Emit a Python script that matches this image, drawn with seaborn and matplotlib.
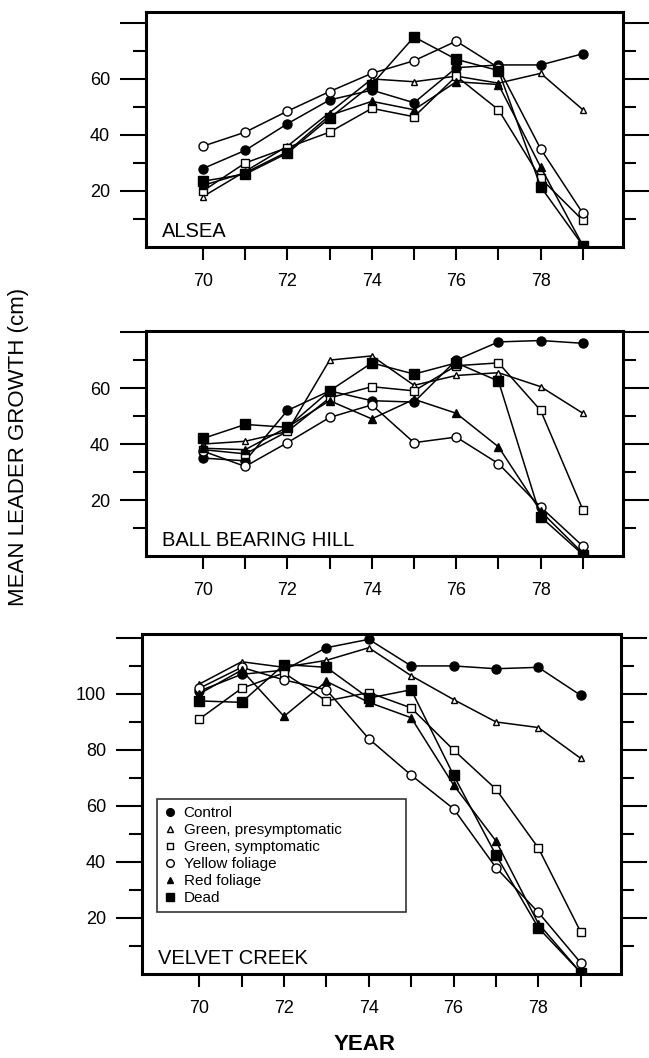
import pandas as pd
import matplotlib
matplotlib.use('Agg')
import matplotlib.pyplot as plt
from matplotlib.lines import Line2D
import seaborn as sns

## DATA (mean leader growth, cm)
years = [70, 71, 72, 73, 74, 75, 76, 77, 78, 79]
groups = ['Control', 'Green, presymptomatic', 'Green, symptomatic',
          'Yellow foliage', 'Red foliage', 'Dead']
sites = ['ALSEA', 'BALL BEARING HILL', 'VELVET CREEK']

alsea_control = [28, 34.5, 44, 52.5, 56, 51.5, 64, 65, 65, 69]
alsea_presym = [18, 27, 36, 48, 60, 59, 61, 58.5, 62, 49]
alsea_sympt = [20, 30, 35.5, 41, 49.5, 46.5, 61, 49, 24.5, 9.5]
alsea_yellow = [36, 41, 48.5, 55.5, 62, 66.5, 73.5, 64, 35, 12]
alsea_red = [22, 26.5, 34, 47, 52, 49, 59, 58, 28.5, 0.5]
alsea_dead = [23.5, 26, 33.5, 46, 58, 75, 67, 63, 21.5, 0.5]

bbh_control = [35, 34, 52, 59, 55.5, 55, 70, 76.5, 77, 76]
bbh_presym = [40, 41, 44.5, 70, 71.5, 61, 64.5, 65.5, 60.5, 51]
bbh_sympt = [38, 36.5, 44.5, 56.5, 60.5, 59, 68, 69, 52, 16.5]
bbh_yellow = [37.5, 32, 40.5, 49.5, 54, 40.5, 42.5, 33, 17.5, 3.5]
bbh_red = [38.5, 38, 46, 55.5, 49, 56, 51, 39, 16, 1]
bbh_dead = [42, 47, 46, 59, 69, 65, 69, 62.5, 14, 0.5]

vc_control = [101, 107, 108.5, 116.5, 119.5, 110, 110, 109, 109.5, 99.5]
vc_presym = [103.5, 111.5, 109.5, 112, 116.5, 106.5, 98, 90, 88, 77]
vc_sympt = [91, 102, 107.5, 97.5, 100.5, 95, 80, 66, 45, 15]
vc_yellow = [102, 109.5, 105, 101.5, 84, 71, 59, 38, 22, 4]
vc_red = [100, 108.5, 92, 104.5, 97, 91.5, 67.5, 47.5, 18, 0.5]
vc_dead = [97.5, 97, 110.5, 109.5, 98.5, 101.5, 71, 42.5, 16.5, 0.5]

site_series = {
    'ALSEA': [alsea_control, alsea_presym, alsea_sympt, alsea_yellow, alsea_red, alsea_dead],
    'BALL BEARING HILL': [bbh_control, bbh_presym, bbh_sympt, bbh_yellow, bbh_red, bbh_dead],
    'VELVET CREEK': [vc_control, vc_presym, vc_sympt, vc_yellow, vc_red, vc_dead],
}

rows = []
for site in sites:
    for g, vals in zip(groups, site_series[site]):
        for yr, v in zip(years, vals):
            rows.append((site, g, yr, v))
df = pd.DataFrame(rows, columns=['site', 'group', 'year', 'growth'])

# marker, face colour, size
mstyle = {
    'Control': ('o', 'black', 6.5),
    'Green, presymptomatic': ('^', 'white', 5),
    'Green, symptomatic': ('s', 'white', 6),
    'Yellow foliage': ('o', 'white', 6.5),
    'Red foliage': ('^', 'black', 5.5),
    'Dead': ('s', 'black', 6.5),
}

sns.set_theme(style='ticks')
plt.rcParams['font.family'] = ['Liberation Sans', 'DejaVu Sans']
plt.rcParams['text.color'] = 'black'

W, H = 649, 1058
fig = plt.figure(figsize=(W / 100, H / 100), dpi=100)

# panel boxes in pixels: left, right, top, bottom
boxes = [(146, 623, 12, 247), (146, 623, 331, 556), (142, 621, 634, 974)]
ytops = [83.9, 80.4, 121.4]
label_y = [0.043, 0.044, 0.03]

axes = []
for i, site in enumerate(sites):
    l, r, t, b = boxes[i]
    ax = fig.add_axes([l / W, 1 - b / H, (r - l) / W, (b - t) / H])
    axes.append(ax)
    sub = df[df['site'] == site]
    for g in groups:
        m, fc, ms = mstyle[g]
        sns.lineplot(data=sub[sub['group'] == g], x='year', y='growth', ax=ax,
                     color='black', linewidth=1.1, marker=m, markersize=ms,
                     markerfacecolor=fc, markeredgecolor='black',
                     markeredgewidth=1.0, errorbar=None, legend=False)

    ax.set_xlim(68.65, 79.95)
    ax.set_ylim(0, ytops[i])
    ax.set_xticks(years, labels=[str(y) if y % 2 == 0 and y < 79 else '' for y in years])
    top = 120 if i == 2 else 80
    majors = list(range(20, top + 1, 20))
    ax.set_yticks(majors, labels=[str(v) if v < top else '' for v in majors])
    ax.set_yticks(list(range(10, top, 20)), minor=True)
    ax.tick_params(axis='y', which='major', direction='out', length=19, width=1.5,
                   left=True, right=True, pad=7, labelsize=13, colors='black')
    ax.tick_params(axis='y', which='minor', direction='out', length=9.5, width=1.5,
                   left=True, right=True, colors='black')
    ax.tick_params(axis='x', which='major', direction='out', length=9.5, width=1.5,
                   bottom=True, top=False, pad=9, labelsize=13, colors='black')
    ax.tick_params(axis='x', which='minor', bottom=False, top=False)
    for s in ax.spines.values():
        s.set_linewidth(2.2)
        s.set_color('black')
        s.set_visible(True)
    ax.set_xlabel('')
    ax.set_ylabel('')
    ax.text(0.034, label_y[i], site, transform=ax.transAxes, fontsize=14.5,
            ha='left', va='baseline', color='black')

# legend in the bottom panel
handles = [Line2D([], [], linestyle='none', marker=mstyle[g][0],
                  markerfacecolor=mstyle[g][1], markeredgecolor='black',
                  markersize=mstyle[g][2] - 1.0, markeredgewidth=1.0) for g in groups]
leg = axes[2].legend(handles, groups, loc='upper left',
                     bbox_to_anchor=(0.031, 0.17, 0.52, 0.344), mode='expand',
                     frameon=True, fancybox=False, edgecolor='black',
                     fontsize=11, labelspacing=0.2, handlelength=0.8,
                     handletextpad=0.5, borderpad=0.45, borderaxespad=0,
                     labelcolor='black')
leg.get_frame().set_linewidth(1.2)

fig.text(19 / W, 1 - 447 / H, 'MEAN LEADER GROWTH (cm)', rotation=90,
         ha='center', va='center', fontsize=16, color='black')
fig.text(365 / W, 1 - 1044 / H, 'YEAR', ha='center', va='center', fontsize=16,
         fontweight='bold', color='black')

fig.savefig('out.png', dpi=100)
